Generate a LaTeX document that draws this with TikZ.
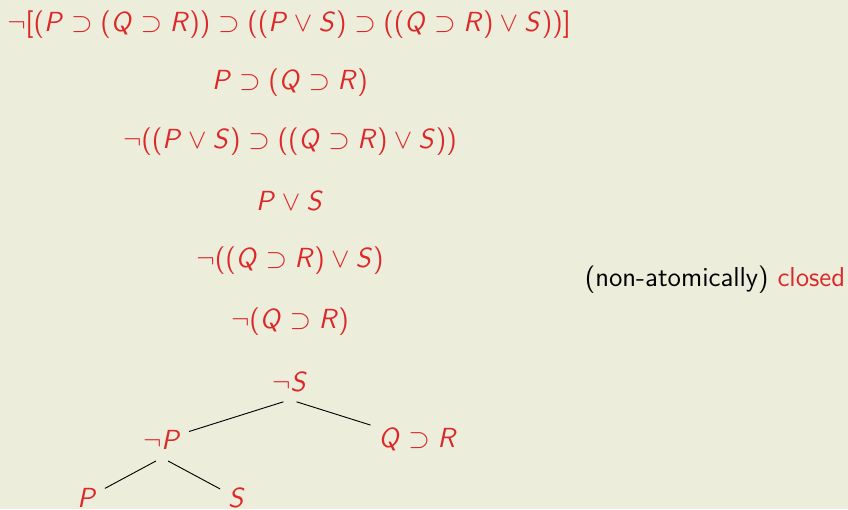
\documentclass[tikz,border=0pt]{standalone}
\usepackage{amsmath,amssymb}
\usepackage{xcolor}
\usepackage{tikz}
\usetikzlibrary{positioning}
\definecolor{slidebg}{HTML}{EDEDDC}
\definecolor{tabred}{HTML}{DC2828}
% sans serif math letters and delimiters
\DeclareSymbolFont{sfletters}{OT1}{cmss}{m}{sl}
\DeclareSymbolFont{sfupright}{OT1}{cmss}{m}{n}
\DeclareMathSymbol{P}{\mathalpha}{sfletters}{`P}
\DeclareMathSymbol{Q}{\mathalpha}{sfletters}{`Q}
\DeclareMathSymbol{R}{\mathalpha}{sfletters}{`R}
\DeclareMathSymbol{S}{\mathalpha}{sfletters}{`S}
\DeclareMathDelimiter{(}{\mathopen}{sfupright}{"28}{largesymbols}{"00}
\DeclareMathDelimiter{)}{\mathclose}{sfupright}{"29}{largesymbols}{"01}
\DeclareMathDelimiter{[}{\mathopen}{sfupright}{"5B}{largesymbols}{"02}
\DeclareMathDelimiter{]}{\mathclose}{sfupright}{"5D}{largesymbols}{"03}

\begin{document}
\begin{tikzpicture}[x=0.4346pt, y=-0.4346pt,
  fml/.style={text=tabred, font=\fontsize{11.75}{14}\selectfont},
  branch/.style={black, line width=0.4pt, shorten <=3pt}]
\fill[slidebg] (0,0) rectangle (848,509);
\useasboundingbox (0,0) rectangle (848,509);
% Trunk
\node[fml] (f1) at (289,25) {$\neg[(P\supset(Q\supset R))\supset((P\vee S)\supset((Q\supset R)\vee S))]$};
\node[fml] (f2) at (290,83) {$P\supset(Q\supset R)$};
\node[fml] (f3) at (290,142) {$\neg((P\vee S)\supset((Q\supset R)\vee S))$};
\node[fml] (f4) at (290,201) {$P\vee S$};
\node[fml] (f5) at (290,261) {$\neg((Q\supset R)\vee S)$};
\node[fml] (f6) at (290,322) {$\neg(Q\supset R)$};
% Tree
\node[fml] (nS) at (290,382) {$\neg S$};
\node[fml] (nP) at (162,440) {$\neg P$};
\node[fml] (qr) at (418,440) {$Q\supset R$};
\node[fml] (lP) at (87,498) {$P$};
\node[fml] (lS) at (237,498) {$S$};
\draw[branch] (nS.south) -- (nP);
\draw[branch] (nS.south) -- (qr);
\draw[branch] (nP.south) -- (lP);
\draw[branch] (nP.south) -- (lS);
% Verdict
\node[font=\fontsize{11.9}{14}\selectfont\sffamily] (note) at (715,280) {(non-atomically) \textcolor{tabred}{closed}};
\end{tikzpicture}
\end{document}
